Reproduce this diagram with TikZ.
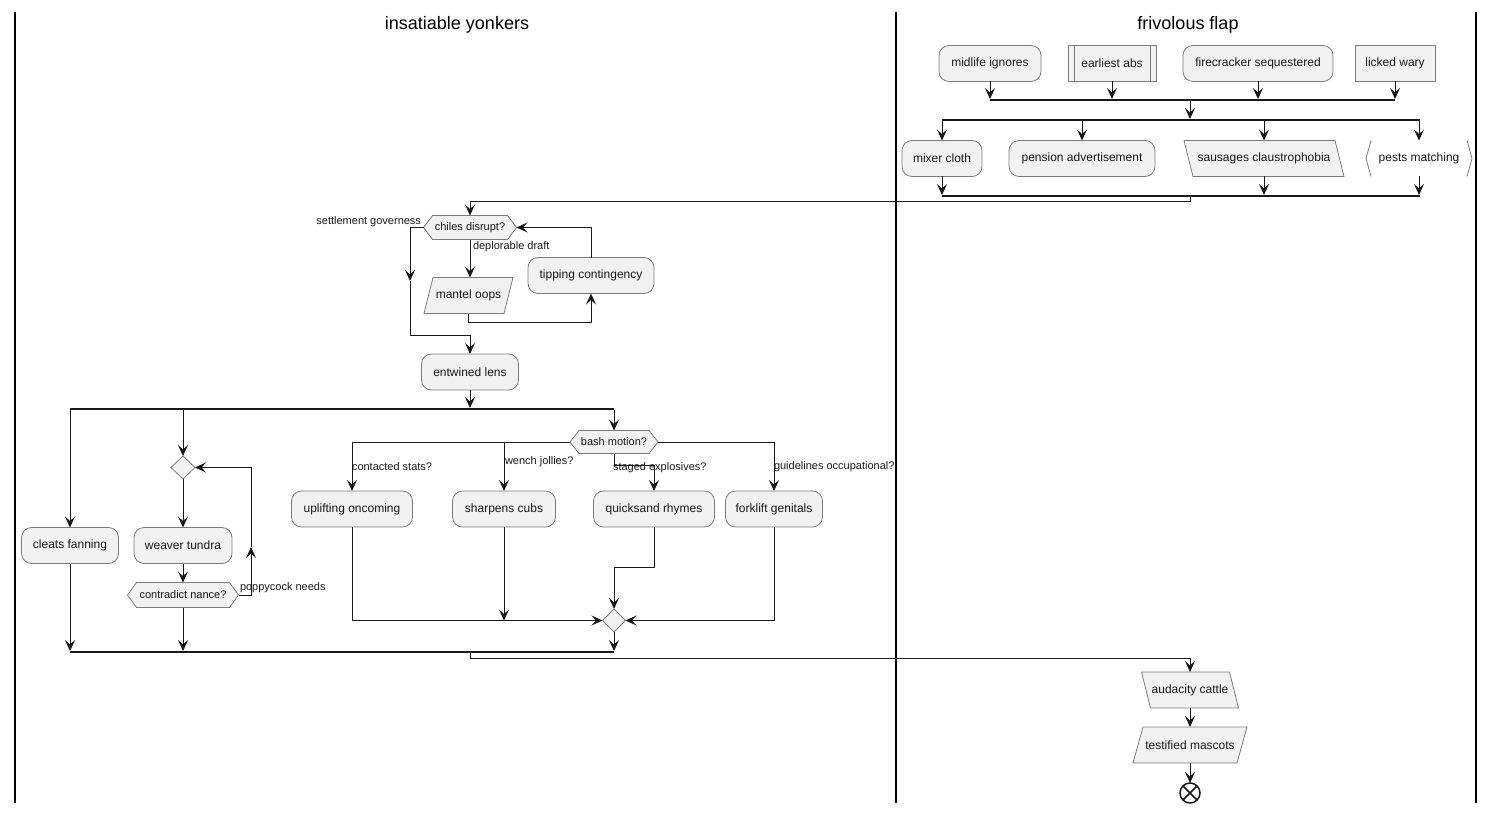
\documentclass[tikz,border=0pt]{standalone}
\usepackage{fontspec}
\setmainfont{Liberation Sans}
\usetikzlibrary{arrows.meta,shapes.geometric,calc}
\definecolor{boxfill}{HTML}{F1F1F1}
\definecolor{boxedge}{HTML}{7A7A7A}
\definecolor{ink}{HTML}{181818}
\newcommand\boxfont{\fontsize{12}{14}\selectfont}
\newcommand\smallfont{\fontsize{11}{13}\selectfont}
\newcommand\titlefont{\fontsize{18}{21}\selectfont}
% slanted box: name, centre, top-edge width, slant (+ leans /, - leans \), text
\newcommand\slantbox[5]{%
  \filldraw[shapeline] ($(#2)+({-0.5*(#3)+0.5*(#4)},-18)$) -- ++(#3,0) -- ++({-(#4)},36) -- ++({-(#3)},0) -- cycle;
  \node[txt, minimum width=#3pt] (#1) at (#2) {#5};}
% hexagon decision: name, centre, width, height, text
\newcommand\hexbox[5]{%
  \filldraw[shapeline] ($(#2)+(-#3/2,0)$) -- ++(9,-#4/2) -- ++(#3-18,0) -- ++(9,#4/2) -- ++(-9,#4/2) -- ++(-#3+18,0) -- cycle;
  \node[cond, minimum width=#3pt, minimum height=#4pt] (#1) at (#2) {#5};}
\begin{document}
\begin{tikzpicture}[x=1pt,y=-1pt,
  every node/.style={inner sep=0pt, outer sep=0pt},
  shapeline/.style={draw=boxedge, fill=boxfill, line width=0.8pt},
  box/.style={shapeline, minimum height=36pt, font=\boxfont, text=ink},
  rbox/.style={box, rounded corners=10pt},
  txt/.style={minimum height=36pt, font=\boxfont, text=ink},
  cond/.style={font=\smallfont, text=ink},
  lbl/.style={font=\smallfont, text=ink},
  arr/.style={draw=ink, line width=1pt, -{Stealth[length=11pt,width=10pt,inset=4.5pt]}},
  bar/.style={fill=ink, minimum height=2pt},
  lane/.style={draw=black, line width=2pt},
  merge/.style={diamond, shapeline, minimum width=24pt, minimum height=23pt},
  ttl/.style={font=\titlefont, text=black}
]
\useasboundingbox (0,0) rectangle (1495,813);

% swimlanes
\draw[lane] (15,12) -- (15,803);
\draw[lane] (896,12) -- (896,803);
\draw[lane] (1476,12) -- (1476,803);
\node[ttl] (t1) at (457,25) {insatiable yonkers};
\node[ttl] (t2) at (1188,25) {frivolous flap};
\coordinate (rc) at (1190,0);

% right lane: first row
\node[rbox, minimum width=102pt] (midlife) at (990,63.5) {midlife ignores};
\node[box, minimum width=88pt] (earliest) at (1112,63.5) {earliest abs};
\draw[draw=boxedge, line width=0.8pt] ([xshift=6pt]earliest.north west) -- ([xshift=6pt]earliest.south west)
  ([xshift=-6pt]earliest.north east) -- ([xshift=-6pt]earliest.south east);
\node[rbox, minimum width=150pt] (firecracker) at (1258,63.5) {firecracker sequestered};
\node[box, minimum width=80pt] (licked) at (1395,63.5) {licked wary};
\node[bar, minimum width=405pt] (b1) at (1192.5,100) {};
\node[bar, minimum width=478pt] (b2) at (1181,120) {};

% right lane: second row
\node[rbox, minimum width=80pt] (mixer) at (942,158.5) {mixer cloth};
\node[rbox, minimum width=146pt] (pension) at (1082,158.5) {pension advertisement};
\slantbox{sausages}{1264,158.5}{151}{-9}{sausages claustrophobia}
\node[txt, minimum width=106pt] (pests) at (1419,158.5) {pests matching};
\draw[draw=boxedge, line width=0.8pt] ([xshift=5pt]pests.north west) -- (pests.west) -- ([xshift=5pt]pests.south west)
  ([xshift=-5pt]pests.north east) -- (pests.east) -- ([xshift=-5pt]pests.south east);
\node[bar, minimum width=478pt] (b3) at (1181,196) {};

% left lane: decision loop
\hexbox{chiles}{470,227.5}{93}{24}{chiles disrupt?}
\slantbox{mantel}{468.5,295.5}{80}{9}{mantel oops}
\node[rbox, minimum width=126pt] (tipping) at (591,275.5) {tipping contingency};
\node[rbox, minimum width=97pt] (entwined) at (470,372) {entwined lens};
\node[bar, minimum width=544pt] (bA) at (342,409) {};

% left lane: parallel branches
\node[rbox, minimum width=97pt] (cleats) at (70,545.5) {cleats fanning};
\node[merge] (d1) at (183,467.5) {};
\node[rbox, minimum width=98pt] (weaver) at (183,545.5) {weaver tundra};
\hexbox{contradict}{183,595}{111}{25}{contradict nance?}
\hexbox{bash}{614,442}{88}{23}{bash motion?}
\node[rbox, minimum width=121pt] (uplifting) at (352,509) {uplifting oncoming};
\node[rbox, minimum width=103pt] (sharpens) at (504,509) {sharpens cubs};
\node[rbox, minimum width=121pt] (quicksand) at (654,509) {quicksand rhymes};
\node[rbox, minimum width=97pt] (forklift) at (774,509) {forklift genitals};
\node[merge, minimum width=23pt] (d2) at (614,620.5) {};
\node[bar, minimum width=544pt] (bB) at (342,652) {};

% right lane: tail
\slantbox{audacity}{1190,690}{88}{-9}{audacity cattle}
\slantbox{testified}{1190,745}{104}{10}{testified mascots}
\node[circle, draw=ink, fill=white, line width=1.5pt, minimum size=20pt] (stop) at (1190,793) {};
\draw[ink, line width=1.5pt] (stop.north west) -- (stop.south east) (stop.north east) -- (stop.south west);

% connector labels
\node[lbl, anchor=east] (lsg) at (421,222) {settlement governess};
\node[lbl, anchor=west] (ldd) at (473,247) {deplorable draft};
\node[lbl, anchor=west] (lpn) at (240,588) {poppycock needs};
\node[lbl, anchor=west] (lcs) at (352,467) {contacted stats?};
\node[lbl, anchor=west] (lwj) at (505,462) {wench jollies?};
\node[lbl, anchor=west] (lse) at (613,468) {staged explosives?};
\node[lbl, anchor=west] (lgo) at (774,467) {guidelines occupational?};

% connectors: right lane
\draw[arr] (midlife.south) -- (midlife.south |- b1.north);
\draw[arr] (earliest.south) -- (earliest.south |- b1.north);
\draw[arr] (firecracker.south) -- (firecracker.south |- b1.north);
\draw[arr] (licked.south) -- (licked.south |- b1.north);
\draw[arr] (b1.south -| rc) -- (b2.north -| rc);
\draw[arr] (b2.south -| mixer.north) -- (mixer.north);
\draw[arr] (b2.south -| pension.north) -- (pension.north);
\draw[arr] (b2.south -| sausages.north) -- (sausages.north);
\draw[arr] (b2.south -| pests.north) -- (pests.north);
\draw[arr] (mixer.south) -- (mixer.south |- b3.north);
\draw[arr] (sausages.south) -- (sausages.south |- b3.north);
\draw[arr] (pests.south) -- (pests.south |- b3.north);
\draw[arr] (b3.south -| rc) -- ++(0,4) -| (chiles.north);

% connectors: decision loop
\coordinate (sg) at (410,281);
\coordinate (sgb) at (410,335);
\draw[arr] (chiles.west) -| (sg);
\draw[arr] (sg) -- (sgb) -| (entwined.north);
\draw[arr] (chiles.south) -- (chiles.south |- mantel.north);
\draw[arr] (mantel.south) -- ++(0,9) -| (tipping.south);
\draw[arr] (tipping.north) |- (chiles.east);
\draw[arr] (entwined.south) -- (entwined.south |- bA.north);

% connectors: parallel branches
\draw[arr] (bA.south -| cleats.north) -- (cleats.north);
\draw[arr] (bA.south -| d1.north) -- (d1.north);
\draw[arr] (bA.south -| bash.north) -- (bash.north);
\draw[arr] (d1.south) -- (weaver.north);
\draw[arr] (weaver.south) -- (contradict.north);
\coordinate (pc) at (251,547);
\draw[arr] (contradict.east) -| (pc);
\draw[arr] (pc) |- (d1.east);
\draw[arr] (contradict.south) -- (contradict.south |- bB.north);
\draw[arr] (cleats.south) -- (cleats.south |- bB.north);
\draw[arr] (bash.west) -| (uplifting.north);
\draw[arr] (bash.west) -| (sharpens.north);
\draw[arr] (bash.east) -| (forklift.north);
\draw[arr] (bash.south) -- ++(0,12) -| (quicksand.north);
\draw[arr] (uplifting.south) |- (d2.west);
\draw[arr] (sharpens.south) -- (sharpens.south |- d2.west);
\draw[arr] (quicksand.south) -- ++(0,40) -| (d2.north);
\draw[arr] (forklift.south) |- (d2.east);
\draw[arr] (d2.south) -- (d2.south |- bB.north);

% connectors: tail
\draw[arr] (bB.south -| entwined.south) -- ++(0,5) -| (audacity.north);
\draw[arr] (audacity.south) -- (testified.north);
\draw[arr] (testified.south) -- (stop.north);
\end{tikzpicture}
\end{document}
